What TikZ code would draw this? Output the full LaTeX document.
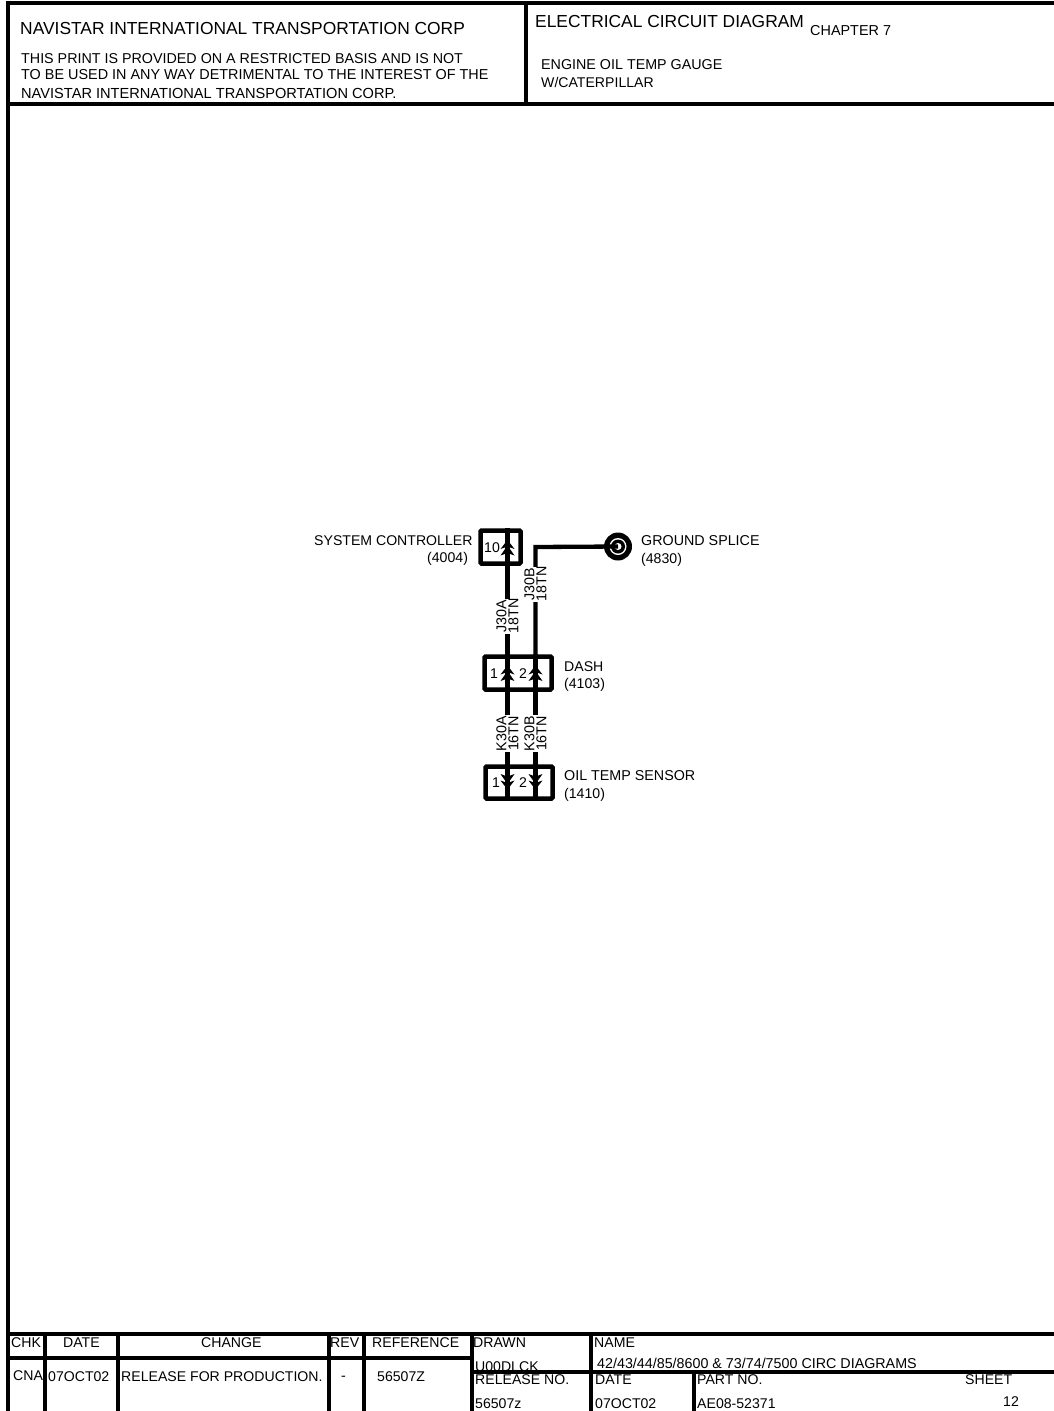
\documentclass[tikz,border=0pt]{standalone}
\usepackage{fontspec}
\setmainfont{Liberation Sans}
\usetikzlibrary{positioning}
\tikzset{
  frameline/.style={black, line width=4pt},
  wire/.style={black, line width=4.3pt},
  conbox/.style={draw=black, line width=4.5pt, rounded corners=1pt, inner sep=0pt},
  txt/.style={inner sep=0pt, anchor=base west, font=\fontsize{#1}{#1}\selectfont},
  txt/.default=14.1,
  wirelabel/.style={inner sep=0pt, rotate=90, align=center, font=\fontsize{14.3}{12}\selectfont, fill=white},
  chevup/.pic={
    \fill[black] (-7,1.5) -- (0,-7.5) -- (7,1.5) -- (0,-1) -- cycle;
    \fill[black] (-7,8) -- (0,-2) -- (7,8) -- (0,5.5) -- cycle;
  },
  chevdown/.pic={
    \fill[black] (-7,-1.5) -- (0,7.5) -- (7,-1.5) -- (0,1) -- cycle;
    \fill[black] (-7,-8) -- (0,2) -- (7,-8) -- (0,-5.5) -- cycle;
  }
}
\begin{document}
\begin{tikzpicture}[x=1pt, y=-1pt]
    \useasboundingbox (0,0) rectangle (1054,1411);

    % title block
    \draw[frameline] (1054,3) -- (8,3) -- (8,1411);
    \draw[frameline] (8,104) -- (1054,104);
    \draw[frameline] (526,3) -- (526,104);

    \node[txt=17.4] (corp) at (20,34) {NAVISTAR INTERNATIONAL TRANSPORTATION CORP};
    \node[txt=14.3] (note1) at (21,63) {THIS PRINT IS PROVIDED ON A RESTRICTED BASIS AND IS NOT};
    \node[txt=14.4] (note2) at (21,79) {TO BE USED IN ANY WAY DETRIMENTAL TO THE INTEREST OF THE};
    \node[txt=14.6] (note3) at (21,98) {NAVISTAR INTERNATIONAL TRANSPORTATION CORP.};
    \node[txt=17.4] (title) at (535,27) {ELECTRICAL CIRCUIT DIAGRAM};
    \node[txt=14.4] (chapter) at (810,35) {CHAPTER 7};
    \node[txt=14.3] (sub1) at (541,69) {ENGINE OIL TEMP GAUGE};
    \node[txt] (sub2) at (541,87) {W/CATERPILLAR};

    % connectors
    \node[conbox, minimum width=40pt, minimum height=33pt] (ctrl) at (500.5,547) {};
    \node[conbox, minimum width=67pt, minimum height=33pt] (dash) at (518,673) {};
    \node[conbox, minimum width=67pt, minimum height=32pt] (sensor) at (519,782.5) {};

    \coordinate (a0) at (507.5,0 |- ctrl.north);
    \coordinate (a1) at (507.5,0 |- dash.north);
    \coordinate (a3) at (507.5,0 |- sensor.south);
    \coordinate (b0) at (535.5,547);
    \coordinate (b1) at (535.5,0 |- dash.north);
    \coordinate (b3) at (535.5,0 |- sensor.south);

    % splice
    \coordinate (spl) at (618,546.5);
    \fill[black] (spl) circle (14);
    \fill[white] (spl) circle (8.5);
    \fill[black] (spl) circle (7);
    \fill[white] (spl) circle (3.5);

    % wires
    \draw[wire] (a0) -- (a1);
    \draw[wire] (spl) -- (b0) -- (b1);
    \draw[wire] (a1) -- (a3);
    \draw[wire] (b1) -- (b3);

    % pins
    \pic at (507.5,547.5) {chevup};
    \pic at (507.5,673) {chevup};
    \pic at (535.5,673) {chevup};
    \pic at (507.5,782) {chevdown};
    \pic at (535.5,782) {chevdown};

    \node[txt] (p10) at (484,552) {10};
    \node[txt] (p1a) at (490,678) {1};
    \node[txt] (p2a) at (519,678) {2};
    \node[txt] (p1b) at (492,787) {1};
    \node[txt] (p2b) at (519,787) {2};

    % wire labels
    \node[wirelabel, minimum width=35pt] (ja) at (507.5,616) {J30A\\18TN};
    \node[wirelabel, minimum width=35pt] (jb) at (535.5,584) {J30B\\18TN};
    \node[wirelabel, minimum width=37pt] (ka) at (507.5,733.5) {K30A\\16TN};
    \node[wirelabel, minimum width=37pt] (kb) at (535.5,733.5) {K30B\\16TN};

    % names
    \node[txt] (ctrlname) at (314,545) {SYSTEM CONTROLLER};
    \node[txt] (ctrlnum) at (427,562) {(4004)};
    \node[txt=14.3] (splname) at (641,545) {GROUND SPLICE};
    \node[txt] (splnum) at (641,563) {(4830)};
    \node[txt] (dashname) at (564,671) {DASH};
    \node[txt] (dashnum) at (564,688) {(4103)};
    \node[txt=14.3] (sensname) at (564,780) {OIL TEMP SENSOR};
    \node[txt] (sensnum) at (564,798) {(1410)};

    % change block
    \draw[frameline] (8,1334) -- (1054,1334);
    \draw[frameline] (8,1358) -- (472,1358);
    \draw[frameline] (472,1372) -- (1054,1372);
    \draw[frameline] (45,1334) -- (45,1411);
    \draw[frameline] (118,1334) -- (118,1411);
    \draw[frameline] (329,1334) -- (329,1411);
    \draw[frameline] (364,1334) -- (364,1411);
    \draw[frameline] (472,1334) -- (472,1411);
    \draw[frameline] (591,1334) -- (591,1411);
    \draw[frameline] (694,1370) -- (694,1411);

    \node[txt] (h1) at (11,1347) {CHK};
    \node[txt] (h2) at (63,1347) {DATE};
    \node[txt] (h3) at (201,1347) {CHANGE};
    \node[txt] (h4) at (330,1347) {REV};
    \node[txt] (h5) at (372,1347) {REFERENCE};
    \node[txt] (r1) at (13,1380) {CNA};
    \node[txt] (r2) at (48,1381) {07OCT02};
    \node[txt] (r3) at (121,1381) {RELEASE FOR PRODUCTION.};
    \node[txt] (r4) at (341,1380) {-};
    \node[txt] (r5) at (377,1381) {56507Z};
    \node[txt] (d1) at (473,1347) {DRAWN};
    \node[txt] (d2) at (475,1371) {U00DLCK};
    \node[txt] (d3) at (475,1384) {RELEASE NO.};
    \node[txt] (d4) at (475,1408) {56507z};
    \node[txt] (n1) at (594,1347) {NAME};
    \node[txt=14.3] (n2) at (597,1368) {42/43/44/85/8600 \& 73/74/7500 CIRC DIAGRAMS};
    \node[txt] (n3) at (595,1384) {DATE};
    \node[txt] (n4) at (595,1408) {07OCT02};
    \node[txt] (n5) at (697,1384) {PART NO.};
    \node[txt] (n6) at (697,1408) {AE08-52371};
    \node[txt] (n7) at (965,1384) {SHEET};
    \node[txt] (n8) at (1003,1406) {12};
\end{tikzpicture}
\end{document}
